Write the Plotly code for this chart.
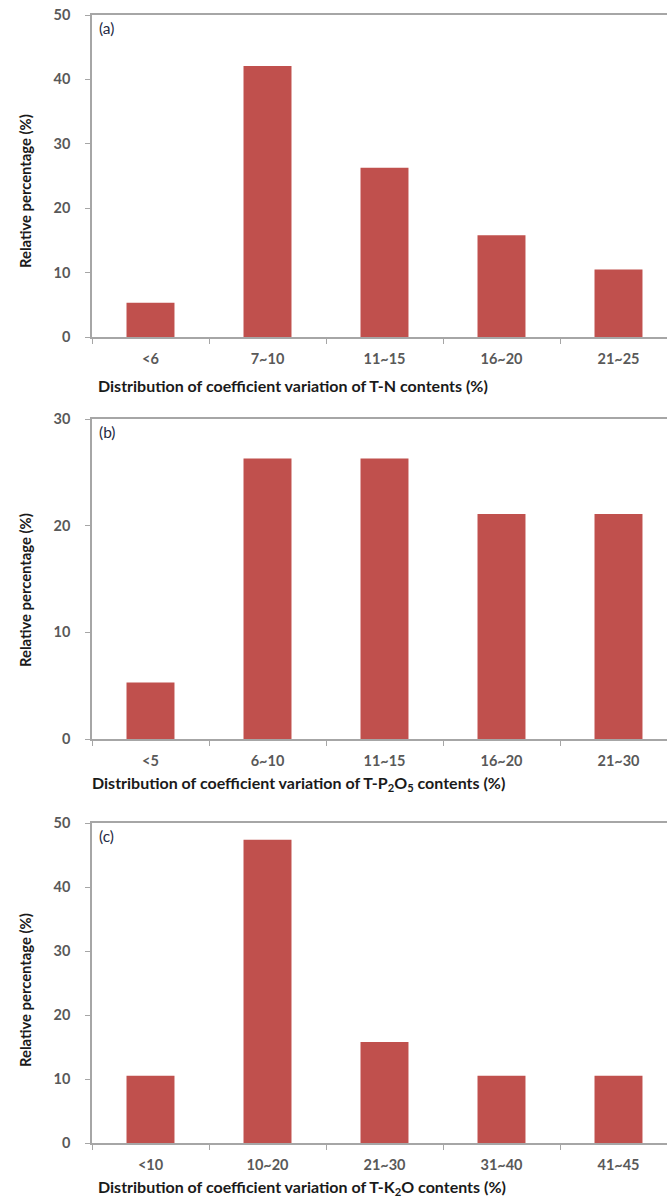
import plotly.graph_objects as go

# ---- data ----
cats_a = ["<6", "7~10", "11~15", "16~20", "21~25"]
vals_a = [5.3, 42.1, 26.3, 15.8, 10.5]

cats_b = ["<5", "6~10", "11~15", "16~20", "21~30"]
vals_b = [5.3, 26.3, 26.3, 21.1, 21.1]

cats_c = ["<10", "10~20", "21~30", "31~40", "41~45"]
vals_c = [10.5, 47.4, 15.8, 10.5, 10.5]

ymax = [50, 30, 50]
ytick_steps = [10, 10, 10]
panel_labels = ["(a)", "(b)", "(c)"]
xtitles = [
    "Distribution of coefficient variation of T-N contents (%)",
    "Distribution of coefficient variation of T-P<sub>2</sub>O<sub>5</sub> contents (%)",
    "Distribution of coefficient variation of T-K<sub>2</sub>O contents (%)",
]
ytitle = "Relative percentage (%)"

W, H = 667, 1198
BAR = "#C0504D"
AXIS = "#A6A6A6"
TICKC = "#595959"
FONT = "Lato"

# pixel layout (top, bottom) of each plot area
panels_px = [(15, 337), (419, 739), (823, 1143)]
x_left_px = 92
xtitle_px = [(293, 385), (298, 783), (302, 1187)]
ytitle_y_px = [191, 590, 990]

fig = go.Figure()
all_cats = [cats_a, cats_b, cats_c]
all_vals = [vals_a, vals_b, vals_c]

for i in range(3):
    n = i + 1
    xa = "x" if n == 1 else f"x{n}"
    ya = "y" if n == 1 else f"y{n}"
    fig.add_trace(go.Bar(x=all_cats[i], y=all_vals[i], marker=dict(color=BAR, line=dict(width=0)),
                         xaxis=xa, yaxis=ya, showlegend=False))
    top, bot = panels_px[i]
    ydom = [1 - bot / H, 1 - top / H]
    xdom = [x_left_px / W, 1.0]
    xkey = "xaxis" if n == 1 else f"xaxis{n}"
    ykey = "yaxis" if n == 1 else f"yaxis{n}"
    cat_w = 117.0
    span = (W - x_left_px) / cat_w
    fig.update_layout(**{
        xkey: dict(domain=xdom, anchor=ya, type="category", range=[-0.5, -0.5 + span],
                   automargin=False,
                   showline=True, linecolor=AXIS, linewidth=1.5, mirror=True,
                   ticks="outside", tickson="boundaries", ticklen=5, tickcolor=AXIS,
                   showgrid=False, zeroline=False, ticklabelstandoff=8,
                   tickfont=dict(family=FONT, size=14.5, color=TICKC, weight="bold")),
        ykey: dict(domain=ydom, anchor=xa, range=[0, ymax[i]], dtick=ytick_steps[i],
                   automargin=False,
                   showline=True, linecolor=AXIS, linewidth=1.5,
                   ticks="outside", ticklen=5, tickcolor=AXIS,
                   showgrid=False, zeroline=False, ticklabelstandoff=12,
                   tickfont=dict(family=FONT, size=14.5, color=TICKC, weight="bold")),
    })
    # x title
    fig.add_annotation(x=xtitle_px[i][0] / W, y=1 - xtitle_px[i][1] / H, xref="paper", yref="paper",
                       text=xtitles[i], showarrow=False, xanchor="center", yanchor="middle",
                       font=dict(family=FONT, size=16, color="#1a1a1a", weight="bold"))
    # y title
    fig.add_annotation(x=25 / W, y=1 - ytitle_y_px[i] / H, xref="paper", yref="paper",
                       text=ytitle, textangle=-90, showarrow=False, xanchor="center", yanchor="middle",
                       font=dict(family=FONT, size=14.8, color="#1a1a1a", weight="bold"))
    # panel label
    fig.add_annotation(x=97 / W, y=1 - (top + 13) / H, xref="paper", yref="paper",
                       text=panel_labels[i], showarrow=False, xanchor="left", yanchor="middle",
                       font=dict(family=FONT, size=15.5, color="#1F2A44"))

fig.update_layout(width=W, height=H, margin=dict(l=0, r=0, t=0, b=0, autoexpand=False),
                  paper_bgcolor="white", plot_bgcolor="white", bargap=0.59)

fig.write_html("out.html", config={"displayModeBar": False},
               post_script="document.body.style.margin='0';document.body.style.overflow='hidden';")
